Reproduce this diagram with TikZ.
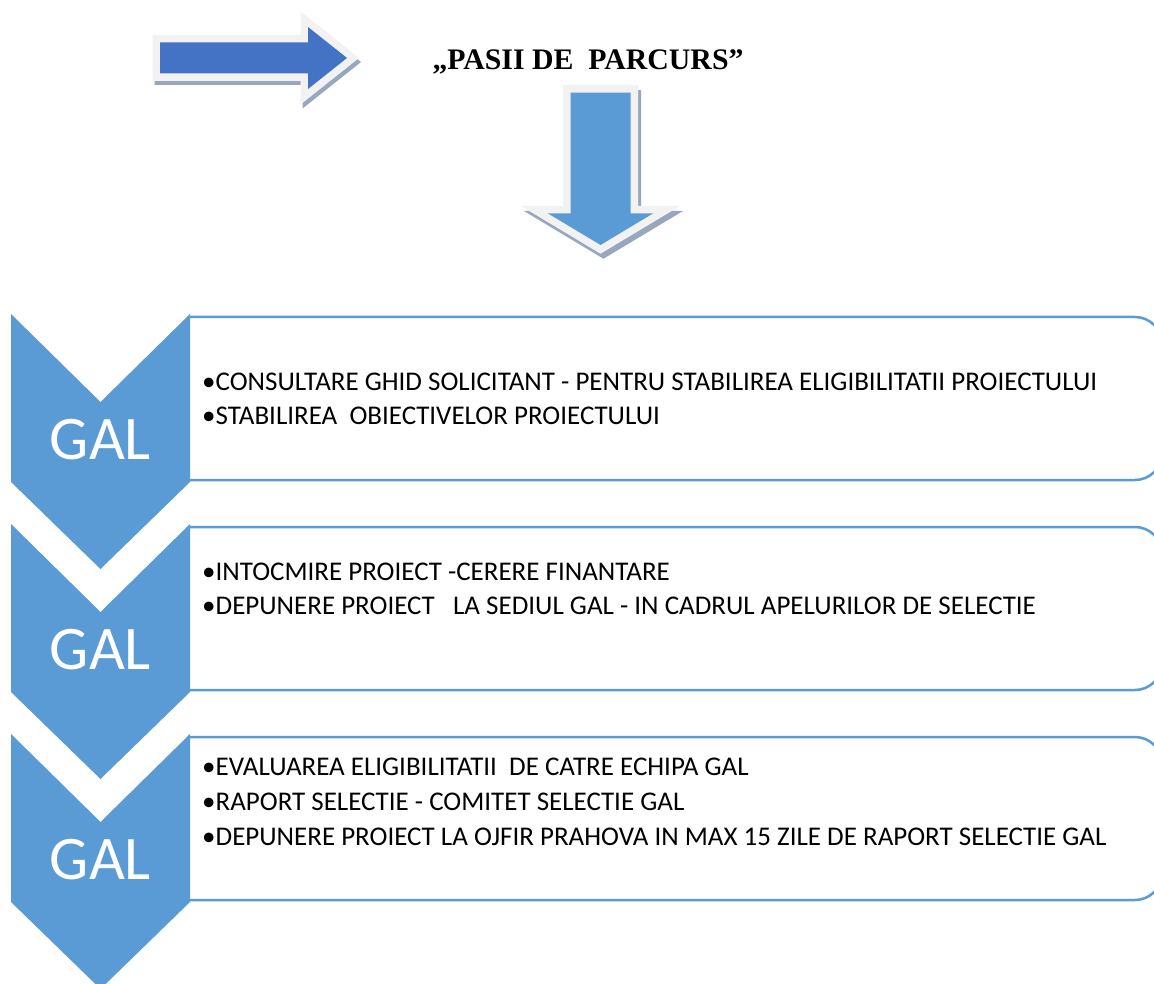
\documentclass[tikz,border=0pt]{standalone}
\usepackage{fontspec}
\setmainfont{Carlito}
\newfontfamily\titlefont{Liberation Serif}
\definecolor{darkblue}{HTML}{4472C4}
\definecolor{midblue}{HTML}{5B9BD5}
\definecolor{bandgray}{HTML}{F2F2F2}
\definecolor{shadowgray}{HTML}{97A7BE}
\begin{document}
\begin{tikzpicture}[x=1pt,y=-1pt,
  band/.style={draw=bandgray,line width=15pt,line join=miter,fill=bandgray},
  shade/.style={draw=shadowgray,line width=15pt,line join=miter,fill=shadowgray},
  chevron/.style={fill=midblue,draw=none},
  stepbox/.style={draw=midblue,line width=2.5pt,rounded corners=27pt},
  galtext/.style={text=white,font=\fontsize{62}{64}\selectfont,inner sep=0pt,anchor=base},
  itemtext/.style={font=\fontsize{27}{30}\selectfont,inner sep=0pt,anchor=base west}]
\useasboundingbox (0,0) rectangle (1154,984);
\clip (0,0) rectangle (1154,984);
\fill[white] (0,0) rectangle (1154,984);

% right arrow
\def\rarrow{(160,42.5) -- (308,42.5) -- (308,27) -- (347,58) -- (308,89) -- (308,73.5) -- (160,73.5) -- cycle}
\path[shade,shift={(2,4)}] \rarrow;
\path[band] \rarrow;
\fill[darkblue] \rarrow;

% title
\node[inner sep=0pt,anchor=base,font=\titlefont\bfseries\fontsize{29.8}{31}\selectfont] (title) at (588,70) {„PASII DE\ \ PARCURS”};

% down arrow
\def\darrow{(570.5,92.7) -- (630.5,92.7) -- (630.5,213.3) -- (653.3,213.3) -- (600.5,245) -- (547.7,213.3) -- (570.5,213.3) -- cycle}
\path[shade,shift={(3,5)}] \darrow;
\path[band] \darrow;
\fill[midblue] \darrow;

% boxes
\foreach \k in {0,1,2}{
  \draw[stepbox] (190,317+210*\k) -- (1162,317+210*\k) -- (1162,480+210*\k) -- (190,480+210*\k);
}
% chevrons
\foreach \k in {0,1,2}{
  \fill[chevron] (11,314+210*\k) -- (100.5,402+210*\k) -- (190,314+210*\k) -- (190,482+210*\k) -- (100.5,569+210*\k) -- (11,482+210*\k) -- cycle;
}
\node[galtext] (gal1) at (100.5,459) {GAL};
\node[galtext] (gal2) at (100.5,669) {GAL};
\node[galtext] (gal3) at (100.5,879) {GAL};

\node[itemtext] (a1) at (202,390) {•CONSULTARE GHID SOLICITANT - PENTRU STABILIREA ELIGIBILITATII PROIECTULUI};
\node[itemtext] (a2) at (202,424.3) {•STABILIREA\ \ OBIECTIVELOR PROIECTULUI};
\node[itemtext] (b1) at (202,580) {•INTOCMIRE PROIECT -CERERE FINANTARE};
\node[itemtext] (b2) at (202,614.3) {•DEPUNERE PROIECT\ \ \ LA SEDIUL GAL - IN CADRUL APELURILOR DE SELECTIE};
\node[itemtext] (c1) at (202,775) {•EVALUAREA ELIGIBILITATII\ \ DE CATRE ECHIPA GAL};
\node[itemtext] (c2) at (202,810) {•RAPORT SELECTIE - COMITET SELECTIE GAL};
\node[itemtext] (c3) at (202,845) {•DEPUNERE PROIECT LA OJFIR PRAHOVA IN MAX 15 ZILE DE RAPORT SELECTIE GAL};
\end{tikzpicture}
\end{document}
